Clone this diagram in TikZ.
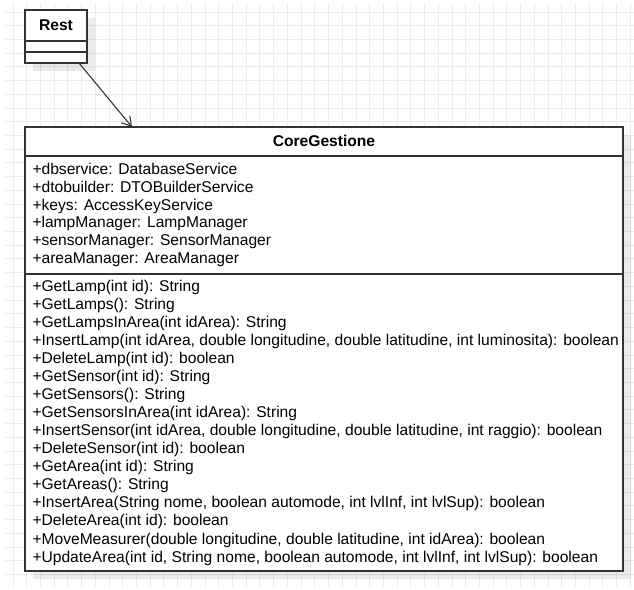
\documentclass[tikz,border=0pt]{standalone}
\usepackage{fontspec}
\setmainfont{Liberation Sans}
\usetikzlibrary{arrows.meta,shadows}

\definecolor{gridgray}{HTML}{EBEBEB}
\definecolor{edgegray}{HTML}{333333}

\tikzset{
  umlbox/.style={draw=edgegray, line width=1.1pt, fill=white, rectangle,
    inner sep=0pt, outer sep=0pt, anchor=north west,
    drop shadow={shadow xshift=8pt, shadow yshift=-8pt, fill=black, opacity=0.08}},
  divider/.style={draw=edgegray, line width=1.1pt},
  member/.style={inner sep=0pt, outer sep=0pt, anchor=base west,
    font=\fontsize{15.6}{18}\selectfont},
  classname/.style={inner sep=0pt, outer sep=0pt, anchor=base,
    font=\fontsize{15.6}{18}\selectfont\bfseries},
  gridline/.style={draw=gridgray, line width=0.8pt},
  assoc/.style={draw=edgegray, line width=1.1pt,
    -{Straight Barb[length=9pt, width=11pt, line width=1.1pt]}}
}

\begin{document}
\begin{tikzpicture}[x=1pt, y=-1pt]
  \useasboundingbox (0,0) rectangle (634,589);

  % background grid
  \begin{scope}
    \clip (5,3) rectangle (634,587);
    \foreach \k in {0,...,45} {
      \draw[gridline] (12.9+\k*13.72, 3) -- (12.9+\k*13.72, 587);
    }
    \foreach \k in {0,...,42} {
      \draw[gridline] (5, 11.9+\k*13.72) -- (634, 11.9+\k*13.72);
    }
  \end{scope}

  % class Rest
  \node[umlbox, minimum width=62pt, minimum height=53pt] (rest) at (25,10) {};
  \draw[divider] ([yshift=-31pt]rest.north west) -- ([yshift=-31pt]rest.north east);
  \draw[divider] ([yshift=-42pt]rest.north west) -- ([yshift=-42pt]rest.north east);
  \node[classname] (restname) at (56,30) {Rest};

  % class CoreGestione
  \node[umlbox, minimum width=598pt, minimum height=444pt] (core) at (25,127) {};
  \draw[divider] ([yshift=-29pt]core.north west) -- ([yshift=-29pt]core.north east);
  \draw[divider] ([yshift=-147pt]core.north west) -- ([yshift=-147pt]core.north east);
  \node[classname] (corename) at (324,146) {CoreGestione};

  % attributes
  \node[member] (a1) at (32.5,174.5) {+dbservice: DatabaseService};
  \node[member] (a2) at (32.5,192.3) {+dtobuilder: DTOBuilderService};
  \node[member] (a3) at (32.5,210.1) {+keys: AccessKeyService};
  \node[member] (a4) at (32.5,227.9) {+lampManager: LampManager};
  \node[member] (a5) at (32.5,245.7) {+sensorManager: SensorManager};
  \node[member] (a6) at (32.5,263.5) {+areaManager: AreaManager};

  % operations
  \node[member] (m1)  at (32.5,291.0) {+GetLamp(int id): String};
  \node[member] (m2)  at (32.5,309.1) {+GetLamps(): String};
  \node[member] (m3)  at (32.5,327.1) {+GetLampsInArea(int idArea): String};
  \node[member] (m4)  at (32.5,345.2) {+InsertLamp(int idArea, double longitudine, double latitudine, int luminosita): boolean};
  \node[member] (m5)  at (32.5,363.3) {+DeleteLamp(int id): boolean};
  \node[member] (m6)  at (32.5,381.4) {+GetSensor(int id): String};
  \node[member] (m7)  at (32.5,399.4) {+GetSensors(): String};
  \node[member] (m8)  at (32.5,417.5) {+GetSensorsInArea(int idArea): String};
  \node[member] (m9)  at (32.5,435.6) {+InsertSensor(int idArea, double longitudine, double latitudine, int raggio): boolean};
  \node[member] (m10) at (32.5,453.6) {+DeleteSensor(int id): boolean};
  \node[member] (m11) at (32.5,471.7) {+GetArea(int id): String};
  \node[member] (m12) at (32.5,489.8) {+GetAreas(): String};
  \node[member] (m13) at (32.5,507.8) {+InsertArea(String nome, boolean automode, int lvlInf, int lvlSup): boolean};
  \node[member] (m14) at (32.5,525.9) {+DeleteArea(int id): boolean};
  \node[member] (m15) at (32.5,544.0) {+MoveMeasurer(double longitudine, double latitudine, int idArea): boolean};
  \node[member] (m16) at (32.5,562.0) {+UpdateArea(int id, String nome, boolean automode, int lvlInf, int lvlSup): boolean};

  % association
  \draw[assoc] ([xshift=23pt]rest.south) -- ([xshift=-192pt]core.north);
\end{tikzpicture}
\end{document}
